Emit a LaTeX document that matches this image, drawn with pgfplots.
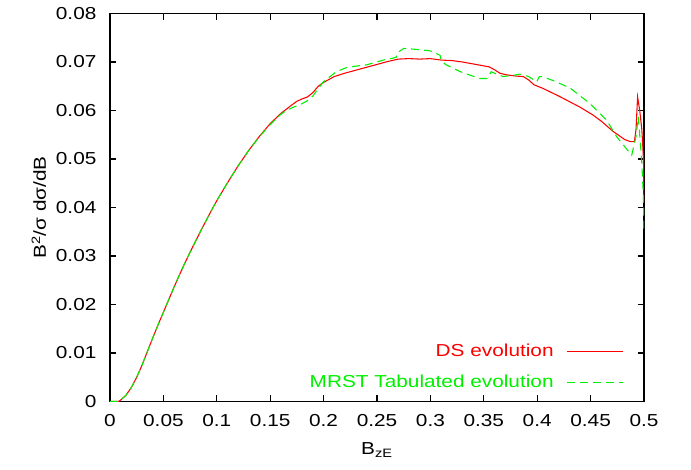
\documentclass[border=0pt]{standalone}
\usepackage{fontspec}
\setmainfont{Liberation Sans}[FakeStretch=1.2]
\usepackage{pgfplots}
\pgfplotsset{compat=1.18}
\usepackage{pgfplotstable}
\definecolor{gpred}{RGB}{255,0,0}
\definecolor{gpgreen}{RGB}{0,240,0}
\pgfplotsset{legend image code/.code={\draw[#1] (0pt,0pt) -- (42pt,0pt);}}

\pgfplotstableread{
x y
0.000 0.0000
0.008 0.0000
0.010 0.0003
0.015 0.0013
0.020 0.0029
0.025 0.0050
0.030 0.0075
0.035 0.0103
0.040 0.0131
0.045 0.0158
0.050 0.0184
0.055 0.0210
0.060 0.0236
0.065 0.0261
0.070 0.0285
0.075 0.0308
0.080 0.0330
0.085 0.0352
0.090 0.0373
0.095 0.0394
0.100 0.0414
0.110 0.0451
0.120 0.0486
0.130 0.0518
0.140 0.0547
0.150 0.0573
0.160 0.0594
0.170 0.0611
0.175 0.0619
0.180 0.0624
0.185 0.0628
0.190 0.0637
0.195 0.0650
0.200 0.0658
0.210 0.0670
0.220 0.0677
0.230 0.0683
0.240 0.0689
0.250 0.0695
0.260 0.0701
0.270 0.0706
0.280 0.0707
0.290 0.0706
0.300 0.0707
0.310 0.0704
0.320 0.0703
0.330 0.0700
0.340 0.0696
0.350 0.0692
0.355 0.0690
0.360 0.0684
0.365 0.0677
0.370 0.0674
0.380 0.0671
0.387 0.0670
0.392 0.0663
0.397 0.0653
0.405 0.0646
0.420 0.0630
0.440 0.0607
0.452 0.0591
0.460 0.0578
0.471 0.0557
0.482 0.0540
0.487 0.0536
0.491 0.0536
0.4925 0.0560
0.494 0.0628
0.496 0.0600
0.498 0.0560
0.4995 0.0500
0.500 0.0410
}\dsdata

\pgfplotstableread{
x y
0.000 0.0000
0.008 0.0000
0.010 0.0003
0.015 0.0013
0.020 0.0029
0.025 0.0050
0.030 0.0075
0.035 0.0103
0.040 0.0131
0.045 0.0158
0.050 0.0184
0.055 0.0210
0.060 0.0236
0.065 0.0261
0.070 0.0285
0.075 0.0308
0.080 0.0330
0.085 0.0352
0.090 0.0373
0.095 0.0394
0.100 0.0414
0.110 0.0451
0.120 0.0486
0.130 0.0518
0.140 0.0546
0.150 0.0571
0.160 0.0592
0.165 0.0600
0.172 0.0607
0.178 0.0612
0.184 0.0619
0.190 0.0630
0.1997 0.0659
0.206 0.0670
0.212 0.0680
0.222 0.0689
0.232 0.0692
0.240 0.0694
0.248 0.0699
0.256 0.0704
0.265 0.0708
0.268 0.0710
0.269 0.0719
0.275 0.0728
0.287 0.0726
0.300 0.0723
0.309 0.0714
0.3105 0.0701
0.315 0.0694
0.328 0.0680
0.346 0.0666
0.353 0.0666
0.357 0.0680
0.362 0.0675
0.368 0.0670
0.376 0.0672
0.384 0.0675
0.392 0.0670
0.3995 0.0659
0.402 0.0670
0.405 0.0670
0.418 0.0659
0.431 0.0646
0.449 0.0615
0.465 0.0580
0.4744 0.0546
0.4869 0.0512
0.4885 0.0508
0.4925 0.0546
0.4947 0.0587
0.4978 0.0498
0.4993 0.0430
0.500 0.0354
}\mrstdata

\begin{document}
\begin{tikzpicture}
\useasboundingbox (-82.5pt,-51.375pt) rectangle (435.75pt,301.125pt);
\begin{axis}[
  at={(0,0)}, anchor=south west,
  scale only axis,
  width=400.5pt, height=291pt,
  xmin=0, xmax=0.5, ymin=0, ymax=0.08,
  scaled x ticks=false, scaled y ticks=false,
  axis line style={black, line width=0.8pt},
  tick style={black, line width=0.8pt},
  major tick length=4.5pt,
  tick align=inside,
  xtick={0,0.05,0.1,0.15,0.2,0.25,0.3,0.35,0.4,0.45,0.5},
  xticklabels={0,0.05,0.1,0.15,0.2,0.25,0.3,0.35,0.4,0.45,0.5},
  ytick={0,0.01,0.02,0.03,0.04,0.05,0.06,0.07,0.08},
  yticklabels={0,0.01,0.02,0.03,0.04,0.05,0.06,0.07,0.08},
  /pgf/number format/assume math mode=true,
  ticklabel style={font=\fontsize{13}{15}\selectfont},
  xticklabel style={anchor=north, inner sep=0pt, yshift=-9.4pt},
  yticklabel style={anchor=east, inner sep=0pt, xshift=-10pt},
  xlabel={B\textsubscript{zE}},
  ylabel={B\textsuperscript{2}/σ dσ/dB},
  label style={font=\fontsize{13}{15}\selectfont},
  xlabel style={at={(axis description cs:0.5,0)}, anchor=base, inner sep=0pt, yshift=-40pt},
  ylabel style={at={(axis description cs:0,0.5)}, anchor=base, inner sep=0pt, yshift=48pt},
  legend plot pos=right,
  legend cell align=right,
  legend style={at={(axis description cs:0.9625,0.0889)}, anchor=east,
    draw=none, fill=none, inner sep=0pt,
    font=\fontsize{13}{15}\selectfont,
    nodes={inner sep=0pt},
    column sep=9.75pt, row sep=12.5pt},
]
\addplot[gpred, line width=0.8pt] table[x=x,y=y] {\dsdata};
\addlegendentry{\textcolor{gpred}{DS evolution}}
\addplot[gpgreen, line width=0.8pt, dash pattern=on 6pt off 3.75pt] table[x=x,y=y] {\mrstdata};
\addlegendentry{\textcolor{gpgreen}{MRST Tabulated evolution}}
\end{axis}
\end{tikzpicture}
\end{document}
